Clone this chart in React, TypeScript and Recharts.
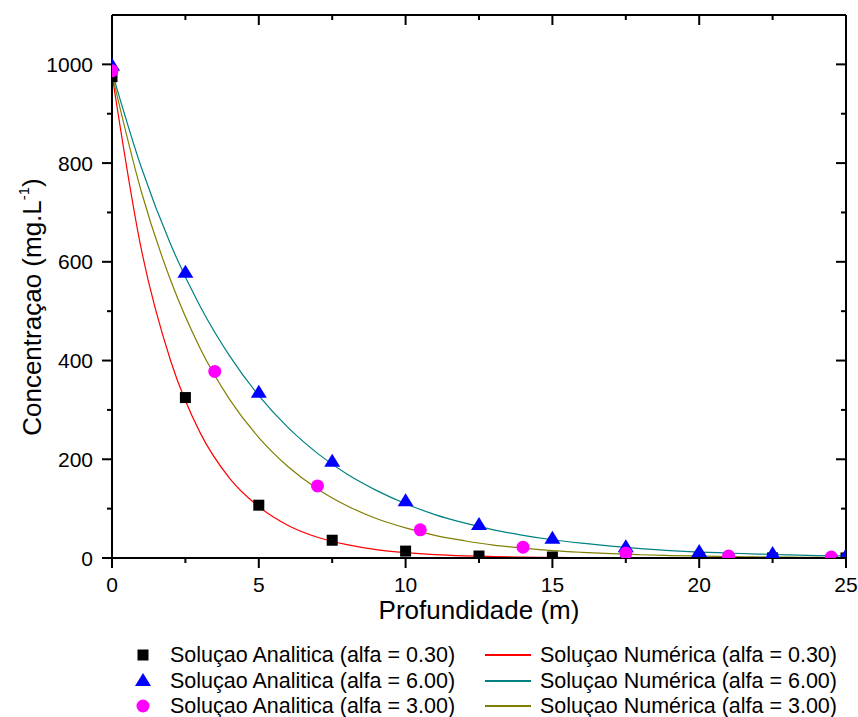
import { ComposedChart, Line, Scatter, XAxis, YAxis, Label } from "recharts";

const FONT = '"Liberation Sans", Arial, sans-serif';
const AXIS = { stroke: "#000", strokeWidth: 2 };

// tick positions (majors get labels, the rest are minor ticks)
const xTicks = [0, 2.5, 5, 7.5, 10, 12.5, 15, 17.5, 20, 22.5, 25];
const yTicks = [0, 100, 200, 300, 400, 500, 600, 700, 800, 900, 1000];

// numeric solutions at every metre
const depth = [0, 1, 2, 3, 4, 5, 6, 7, 8, 9, 10, 11, 12, 13, 14, 15, 16, 17, 18, 19, 20, 21, 22, 23, 24, 25];
const numAlfa030 = [980, 625, 399, 254, 162, 104, 66, 42, 27, 17, 11, 7, 4.5, 2.9, 1.8, 1.2, 0.7, 0.5, 0.3, 0.2, 0.1, 0.1, 0, 0, 0, 0];
const numAlfa600 = [985, 791, 635, 510, 410, 329, 264, 212, 170, 137, 110, 88, 71, 57, 46, 37, 30, 24, 19, 15, 12, 10, 8, 6.5, 5, 4];
const numAlfa300 = [980, 742, 562, 425, 322, 244, 185, 140, 106, 80, 61, 46, 35, 26, 20, 15, 11.5, 8.7, 6.6, 5, 3.8, 2.9, 2.2, 1.6, 1.2, 0.9];

// analytic solutions (markers)
const anaDepthA = [0, 2.5, 5, 7.5, 10, 12.5, 15, 17.5, 20, 22.5, 25];
const anaAlfa030 = [975, 325, 107, 36, 14, 4, 2, 1, 0.5, 0.2, 0.1];
const anaAlfa600 = [997, 578, 335, 195, 115, 67, 39, 22, 12, 8, 4];
const anaDepthB = [0, 3.5, 7, 10.5, 14, 17.5, 21, 24.5];
const anaAlfa300 = [987, 378, 146, 57, 22, 10, 4, 2];

const zip = (xs: number[], ys: number[]) => xs.map((x, i) => ({ x, y: ys[i] }));

function BottomTick({ x, y, payload }: any) {
  const major = payload.value % 5 === 0;
  return (
    <g>
      <line x1={x} y1={y} x2={x} y2={y + (major ? 10 : 5)} stroke="#000" strokeWidth={2} />
      {major && (
        <text x={x} y={y + 34} textAnchor="middle" fontSize={21} fontFamily={FONT} fill="#000">
          {payload.value}
        </text>
      )}
    </g>
  );
}

// mirrored axes: ticks point into the plot
function TopTick({ x, y, payload }: any) {
  const major = payload.value % 5 === 0;
  return <line x1={x} y1={y} x2={x} y2={y + (major ? 10 : 5)} stroke="#000" strokeWidth={2} />;
}

function LeftTick({ x, y, payload }: any) {
  const major = payload.value % 200 === 0;
  return (
    <g>
      <line x1={x - (major ? 10 : 5)} y1={y} x2={x} y2={y} stroke="#000" strokeWidth={2} />
      {major && (
        <text x={x - 19} y={y + 7.5} textAnchor="end" fontSize={21} fontFamily={FONT} fill="#000">
          {payload.value}
        </text>
      )}
    </g>
  );
}

function RightTick({ x, y, payload }: any) {
  const major = payload.value % 200 === 0;
  return <line x1={x - (major ? 10 : 5)} y1={y} x2={x} y2={y} stroke="#000" strokeWidth={2} />;
}

function XTitle() {
  return (
    <text x={479} y={619} textAnchor="middle" fontSize={26} fontFamily={FONT} fill="#000">
      Profundidade (m)
    </text>
  );
}

function YTitle() {
  return (
    <text transform="translate(41, 307) rotate(-90)" textAnchor="middle" fontSize={26} fontFamily={FONT} fill="#000">
      Concentraçao (mg.L<tspan fontSize={15} dy={-12}>-1</tspan>
      <tspan dy={12}>)</tspan>
    </text>
  );
}

const Square = ({ cx, cy }: any) => <rect x={cx - 5.5} y={cy - 5.5} width={11} height={11} fill="#000" />;
const Triangle = ({ cx, cy }: any) => (
  <polygon points={`${cx},${cy - 8} ${cx - 8},${cy + 5} ${cx + 8},${cy + 5}`} fill="#0000FF" />
);
const Dot = ({ cx, cy }: any) => <circle cx={cx} cy={cy} r={6.5} fill="#FF00FF" />;

const legendLeft = [
  { text: "Soluçao Analitica (alfa = 0.30)", kind: "square" },
  { text: "Soluçao Analitica (alfa = 6.00)", kind: "triangle" },
  { text: "Soluçao Analitica (alfa = 3.00)", kind: "circle" },
];
const legendRight = [
  { text: "Soluçao Numérica (alfa = 0.30)", color: "#FF0000" },
  { text: "Soluçao Numérica (alfa = 6.00)", color: "#008080" },
  { text: "Soluçao Numérica (alfa = 3.00)", color: "#808000" },
];
const rowY = [655, 681, 706];

function LegendSymbol({ kind }: { kind: string }) {
  return (
    <svg width={20} height={20} style={{ position: "absolute", left: 133, top: -10 }}>
      {kind === "square" && <rect x={4.5} y={4.5} width={11} height={11} fill="#000" />}
      {kind === "triangle" && <polygon points="10,2 2,15 18,15" fill="#0000FF" />}
      {kind === "circle" && <circle cx={10} cy={10} r={6.5} fill="#FF00FF" />}
    </svg>
  );
}

const textStyle = {
  position: "absolute" as const,
  top: -12,
  fontFamily: FONT,
  fontSize: 21.5,
  lineHeight: "24px",
  whiteSpace: "nowrap" as const,
  color: "#000",
};

export default function App() {
  return (
    <div style={{ position: "absolute", left: 0, top: 0, width: 858, height: 717, background: "#fff", overflow: "hidden" }}>
      <ComposedChart width={858} height={717} margin={{ top: 14, right: 11, bottom: 99, left: 52 }}>
        <XAxis
          xAxisId="b"
          dataKey="x"
          type="number"
          domain={[0, 25]}
          ticks={xTicks}
          interval={0}
          tick={<BottomTick />}
          tickLine={false}
          tickSize={0}
          tickMargin={0}
          axisLine={AXIS}
          height={60}
          allowDataOverflow
          label={<Label content={XTitle} />}
        />
        <XAxis
          xAxisId="t"
          orientation="top"
          dataKey="x"
          type="number"
          domain={[0, 25]}
          ticks={xTicks}
          interval={0}
          tick={<TopTick />}
          tickLine={false}
          tickSize={0}
          tickMargin={0}
          axisLine={AXIS}
          height={1}
          allowDataOverflow
        />
        <YAxis
          yAxisId="l"
          dataKey="y"
          type="number"
          domain={[0, 1100]}
          ticks={yTicks}
          interval={0}
          tick={<LeftTick />}
          tickLine={false}
          tickSize={0}
          tickMargin={0}
          axisLine={AXIS}
          width={60}
          allowDataOverflow
          label={<Label content={YTitle} />}
        />
        <YAxis
          yAxisId="r"
          orientation="right"
          dataKey="y"
          type="number"
          domain={[0, 1100]}
          ticks={yTicks}
          interval={0}
          tick={<RightTick />}
          tickLine={false}
          tickSize={0}
          tickMargin={0}
          axisLine={AXIS}
          width={1}
          allowDataOverflow
        />

        <Line xAxisId="b" yAxisId="l" data={zip(depth, numAlfa030)} dataKey="y" type="monotone" stroke="#FF0000" strokeWidth={1.2} dot={false} isAnimationActive={false} />
        <Line xAxisId="b" yAxisId="l" data={zip(depth, numAlfa600)} dataKey="y" type="monotone" stroke="#008080" strokeWidth={1.2} dot={false} isAnimationActive={false} />
        <Line xAxisId="b" yAxisId="l" data={zip(depth, numAlfa300)} dataKey="y" type="monotone" stroke="#808000" strokeWidth={1.2} dot={false} isAnimationActive={false} />

        <Scatter xAxisId="b" yAxisId="l" data={zip(anaDepthA, anaAlfa030)} dataKey="y" shape={Square} isAnimationActive={false} />
        <Scatter xAxisId="b" yAxisId="l" data={zip(anaDepthA, anaAlfa600)} dataKey="y" shape={Triangle} isAnimationActive={false} />
        <Scatter xAxisId="b" yAxisId="l" data={zip(anaDepthB, anaAlfa300)} dataKey="y" shape={Dot} isAnimationActive={false} />
      </ComposedChart>

      {legendLeft.map((item, i) => (
        <div key={item.text} style={{ position: "absolute", left: 0, top: rowY[i] }}>
          <LegendSymbol kind={item.kind} />
          <span style={{ ...textStyle, left: 170 }}>{item.text}</span>
        </div>
      ))}
      {legendRight.map((item, i) => (
        <div key={item.text} style={{ position: "absolute", left: 0, top: rowY[i] }}>
          <div style={{ position: "absolute", left: 485, top: -1, width: 46, height: 1.5, background: item.color }} />
          <span style={{ ...textStyle, left: 540 }}>{item.text}</span>
        </div>
      ))}
    </div>
  );
}
